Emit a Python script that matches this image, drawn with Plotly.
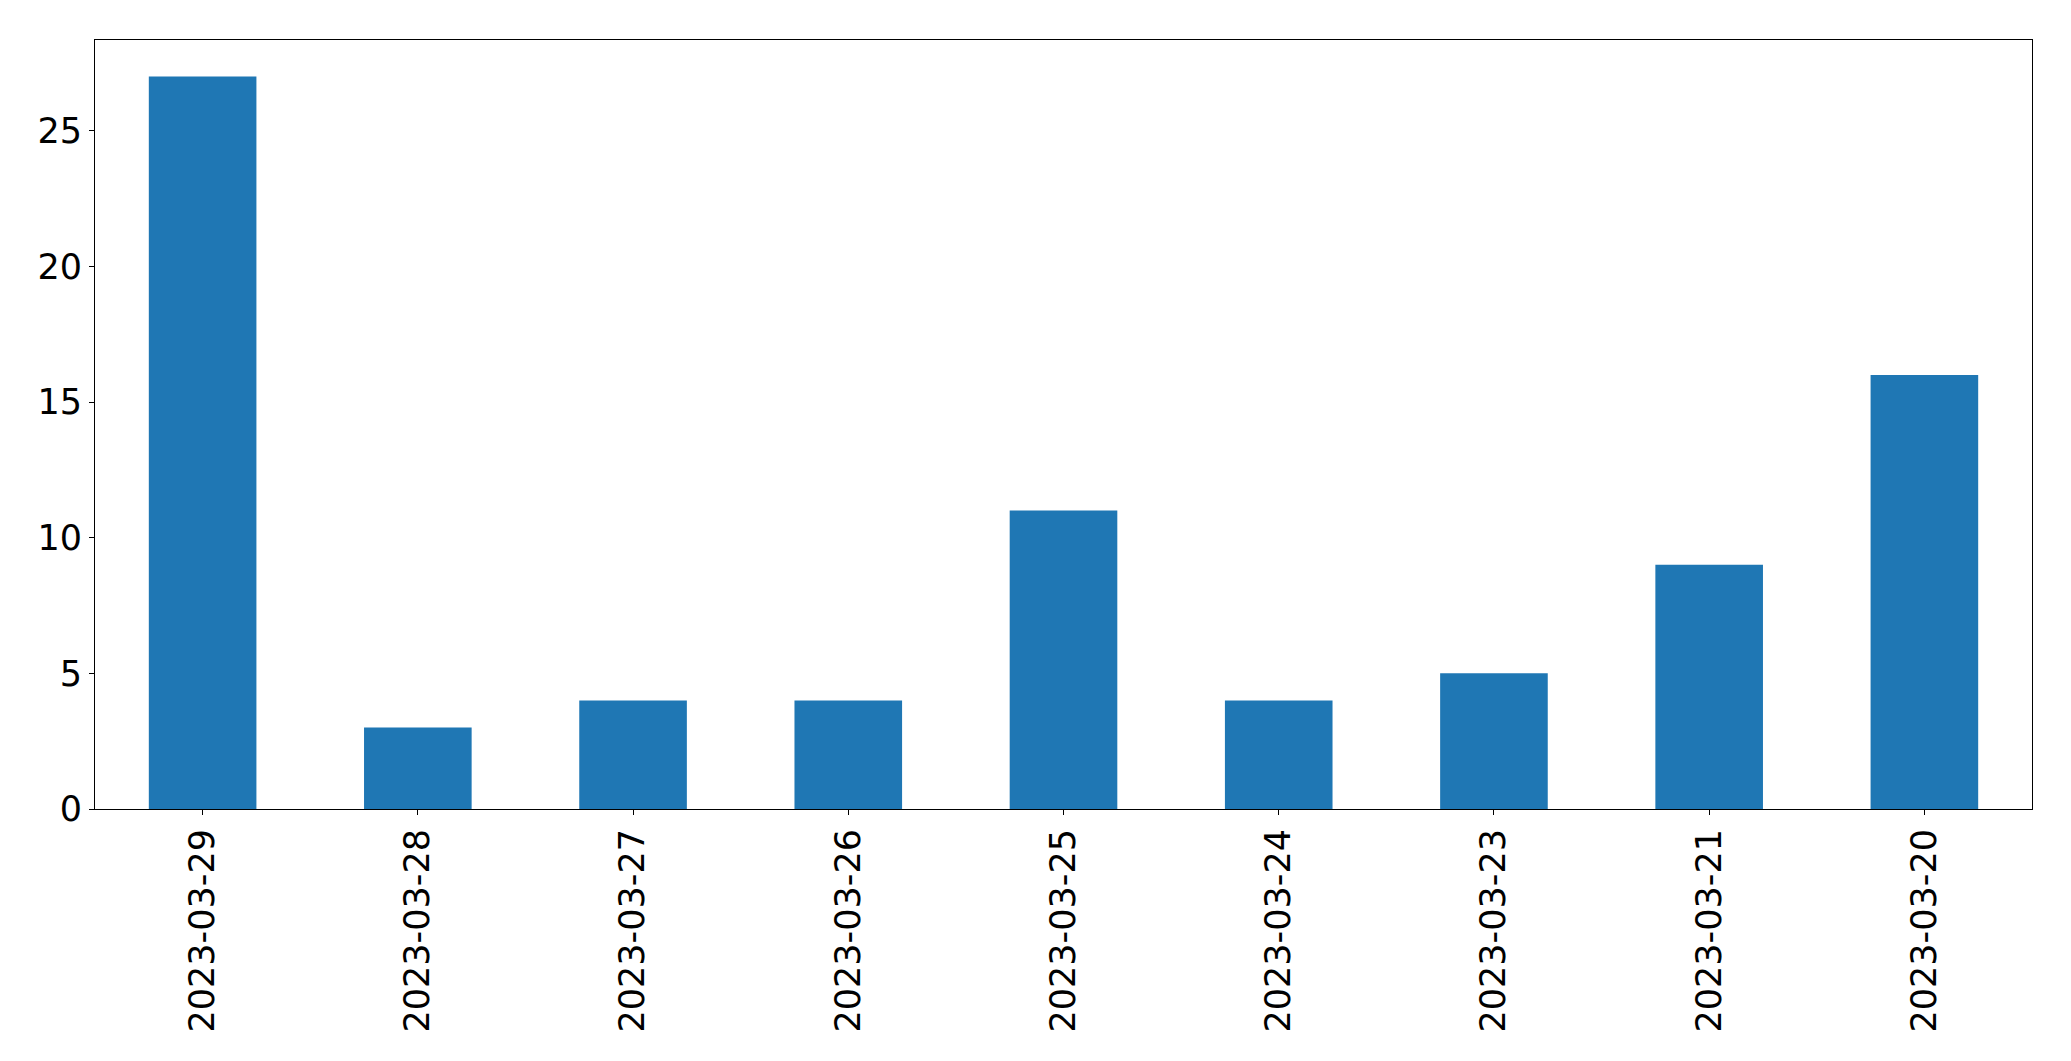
import plotly.graph_objects as go

categories = ["2023-03-29", "2023-03-28", "2023-03-27", "2023-03-26", "2023-03-25",
              "2023-03-24", "2023-03-23", "2023-03-21", "2023-03-20"]
values = [27, 3, 4, 4, 11, 4, 5, 9, 16]
y_ticks = [0, 5, 10, 15, 20, 25]

fig = go.Figure(go.Bar(x=categories, y=values, width=0.5, marker_color="#1f77b4",
                       marker_line_width=0))

font = dict(family="DejaVu Sans", size=35, color="black")
fig.update_layout(
    width=2063, height=1053,
    margin=dict(l=87, r=39, t=32, b=252),
    plot_bgcolor="white", paper_bgcolor="white",
    showlegend=False,
    font=font,
)
fig.update_xaxes(type="category", range=[-0.5, 8.5], tickangle=-90,
                 showline=True, linecolor="black", linewidth=1.1, mirror=True,
                 ticks="outside", ticklen=5, tickcolor="black", tickwidth=1.1,
                 showgrid=False, tickfont=font)
fig.update_yaxes(range=[0, 28.35], tickvals=y_ticks,
                 showline=True, linecolor="black", linewidth=1.1, mirror=True,
                 ticks="outside", ticklen=5, tickcolor="black", tickwidth=1.1,
                 showgrid=False, zeroline=False, tickfont=font)

fig.write_html("out.html")
